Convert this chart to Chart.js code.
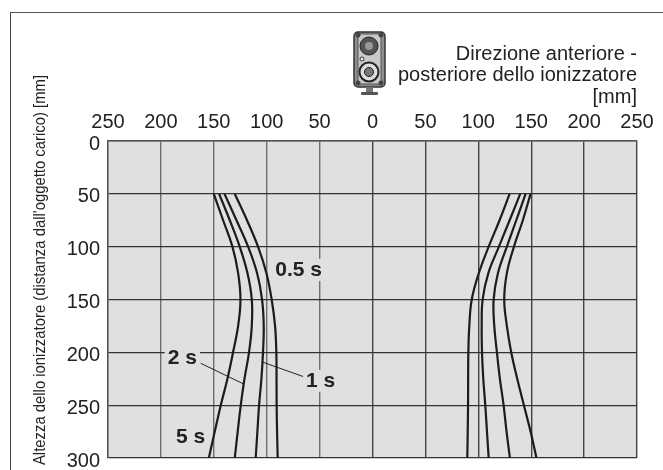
<!DOCTYPE html>
<html>
<head>
<meta charset="utf-8">
<style>
    html, body { margin: 0; padding: 0; background: #fff; overflow: hidden; }
    #wrap { position: relative; width: 663px; height: 470px; }
    #frame { position: absolute; left: 10px; top: 12px; right: 0; bottom: 0; border-left: 1px solid #444; border-top: 1px solid #555; }
    #icon { position: absolute; left: 353px; top: 31px; }
    canvas { position: absolute; left: 0; top: 0; }
</style>
</head>
<body>
<div id="wrap">
    <div id="frame"></div>
    <canvas id="chart" width="663" height="470"></canvas>
    <svg id="icon" width="33" height="67" viewBox="0 0 33 67">
        <rect x="1" y="1" width="31" height="55" rx="4" fill="#8d8d8d" stroke="#333" stroke-width="1.5"/>
        <rect x="5" y="3" width="23" height="50" rx="2" fill="#c9c9c9" stroke="#555"/>
        <circle cx="16" cy="15" r="9" fill="#555" stroke="#222"/>
        <circle cx="16" cy="15" r="4" fill="#999"/>
        <circle cx="16" cy="41" r="9.5" fill="#ddd" stroke="#222" stroke-width="2"/>
        <circle cx="16" cy="41" r="4.5" fill="#777" stroke="#222"/>
        <circle cx="9" cy="28" r="2" fill="#eee" stroke="#333"/>
        <circle cx="5" cy="4" r="2.5" fill="#444"/>
        <circle cx="28" cy="4" r="2.5" fill="#444"/>
        <circle cx="5" cy="52" r="2.5" fill="#444"/>
        <circle cx="28" cy="52" r="2.5" fill="#444"/>
        <rect x="13" y="56" width="7" height="6" fill="#777"/>
        <rect x="8" y="61" width="17" height="3" rx="1" fill="#555"/>
    </svg>
</div>
<script src="https://cdn.jsdelivr.net/npm/chart.js@4/dist/chart.umd.min.js"></script>
<script>
const xTicks = [-250, -200, -150, -100, -50, 0, 50, 100, 150, 200, 250];
const yTicks = [0, 50, 100, 150, 200, 250, 300];
const heights = [50, 75, 100, 125, 150, 175, 200, 225, 250, 275, 300];

// left side curves
const left05 = [-130.2, -118.6, -108.2, -100.3, -95.3, -92.1, -90.9, -90.7, -90.6, -90.2, -89.6];
const left1 = [-139.9, -128.6, -117.6, -109.1, -104.4, -102.8, -103.5, -105, -107.2, -108.8, -110.4];
const left2 = [-145, -134.9, -125.5, -118.2, -114.1, -114.1, -116.7, -121, -124.5, -127.4, -130.2];
const left5 = [-150, -141.2, -132.4, -127, -124.8, -127, -131.8, -137.1, -143.4, -149.1, -154.7];

// right side curves
const right05 = [129.6, 120.1, 109.8, 100.5, 93.8, 91.5, 90.6, 90.4, 90.3, 90, 89.6];
const right1 = [139.6, 129.6, 119.5, 109.5, 104.1, 103.2, 103.5, 104.7, 106.6, 108.2, 109.8];
const right2 = [144.7, 135.9, 127, 118.6, 114.5, 115.1, 117.6, 120.4, 123.9, 126.7, 129.9];
const right5 = [149.4, 142.1, 133.7, 127, 124.5, 127, 131.1, 136.8, 143.1, 149.4, 155];

const allCurves = [left05, left1, left2, left5, right05, right1, right2, right5];

// thin leader lines from the labels to the curves
const leader2 = [{x: -162.3, y: 210.4}, {x: -121.7, y: 230}];
const leader1 = [{x: -61, y: 224.5}, {x: -103.5, y: 209.4}];

// bold labels inside the plot
const labelTexts = ["0.5 s", "2 s", "1 s", "5 s"];
const labelX = [-69.8, -179.7, -49, -172];
const labelY = [122, 206, 227, 280];

const titleLines = ["Direzione anteriore -", "posteriore dello ionizzatore", "[mm]"];
const yTitle = "Altezza dello ionizzatore (distanza dall'oggetto carico) [mm]";

var datasets = allCurves.map(c => ({
    data: c.map((v, i) => ({x: v, y: heights[i]})),
    showLine: true,
    borderColor: "#1c1c1c",
    borderWidth: 2.2,
    pointRadius: 0,
    tension: 0.4
}));

[leader2, leader1].forEach(l => {
    datasets.push({
        data: l,
        showLine: true,
        borderColor: "#222",
        borderWidth: 1,
        pointRadius: 0,
        tension: 0
    });
});

// labels and free text, drawn on top of the lines
const textPlugin = {
    id: "texts",
    afterDatasetsDraw(chart) {
        const ctx = chart.ctx;
        const xs = chart.scales.x;
        const ys = chart.scales.y;
        ctx.save();

        ctx.textBaseline = "middle";
        ctx.font = "bold 21px 'Liberation Sans'";
        ctx.textAlign = "center";
        labelTexts.forEach((t, i) => {
            const px = xs.getPixelForValue(labelX[i]);
            const py = ys.getPixelForValue(labelY[i]);
            const w = ctx.measureText(t).width;
            ctx.fillStyle = "#dfe0e2";
            ctx.fillRect(px - w / 2 - 3, py - 11, w + 6, 22);
            ctx.fillStyle = "#222";
            ctx.fillText(t, px, py);
        });

        ctx.font = "20px 'Liberation Sans'";
        ctx.textAlign = "right";
        ctx.fillStyle = "#222";
        titleLines.forEach((t, i) => {
            ctx.fillText(t, xs.right, 54 + i * 21.5);
        });

        // the original axis title is set in a condensed face
        ctx.translate(40, 270);
        ctx.rotate(-Math.PI / 2);
        ctx.scale(0.874, 1);
        ctx.textAlign = "center";
        ctx.font = "17px 'Liberation Sans'";
        ctx.fillText(yTitle, 0, 0);
        ctx.restore();
    }
};

new Chart(document.getElementById("chart"), {
    type: "scatter",
    data: {datasets: datasets},
    plugins: [textPlugin, {
        id: "plotBackground",
        beforeDraw(chart) {
            const a = chart.chartArea;
            chart.ctx.fillStyle = "#dfe0e2";
            chart.ctx.fillRect(a.left, a.top, a.width, a.height);
        }
    }],
    options: {
        responsive: false,
        animation: false,
        layout: {padding: {top: 112, right: 26, bottom: 12, left: 0}},
        plugins: {legend: {display: false}, tooltip: {enabled: false}},
        scales: {
            x: {
                type: "linear",
                position: "top",
                min: -250,
                max: 250,
                afterBuildTicks: s => { s.ticks = xTicks.map(v => ({value: v})); },
                afterFit: s => { s.height = 29; s.paddingLeft = 0; s.paddingRight = 0; },
                ticks: {
                    color: "#222",
                    font: {family: "'Liberation Sans'", size: 20},
                    padding: 7,
                    maxRotation: 0,
                    callback: v => Math.abs(v)
                },
                grid: {
                    color: c => (c.tick && c.tick.value < 0) ? "#6e6e6e" : "#444",
                    lineWidth: 1.4,
                    drawTicks: false
                },
                border: {color: "#555", width: 1.4}
            },
            y: {
                type: "linear",
                reverse: true,
                min: 0,
                max: 300,
                afterBuildTicks: s => { s.ticks = yTicks.map(v => ({value: v})); },
                afterFit: s => { s.width = 108; s.paddingTop = 0; s.paddingBottom = 0; },
                ticks: {
                    color: "#222",
                    font: {family: "'Liberation Sans'", size: 20},
                    padding: 8,
                    labelOffset: 3
                },
                grid: {
                    color: "#333",
                    lineWidth: 1.3,
                    drawTicks: false
                },
                border: {color: "#555", width: 1.4}
            }
        }
    }
});
</script>
</body>
</html>
